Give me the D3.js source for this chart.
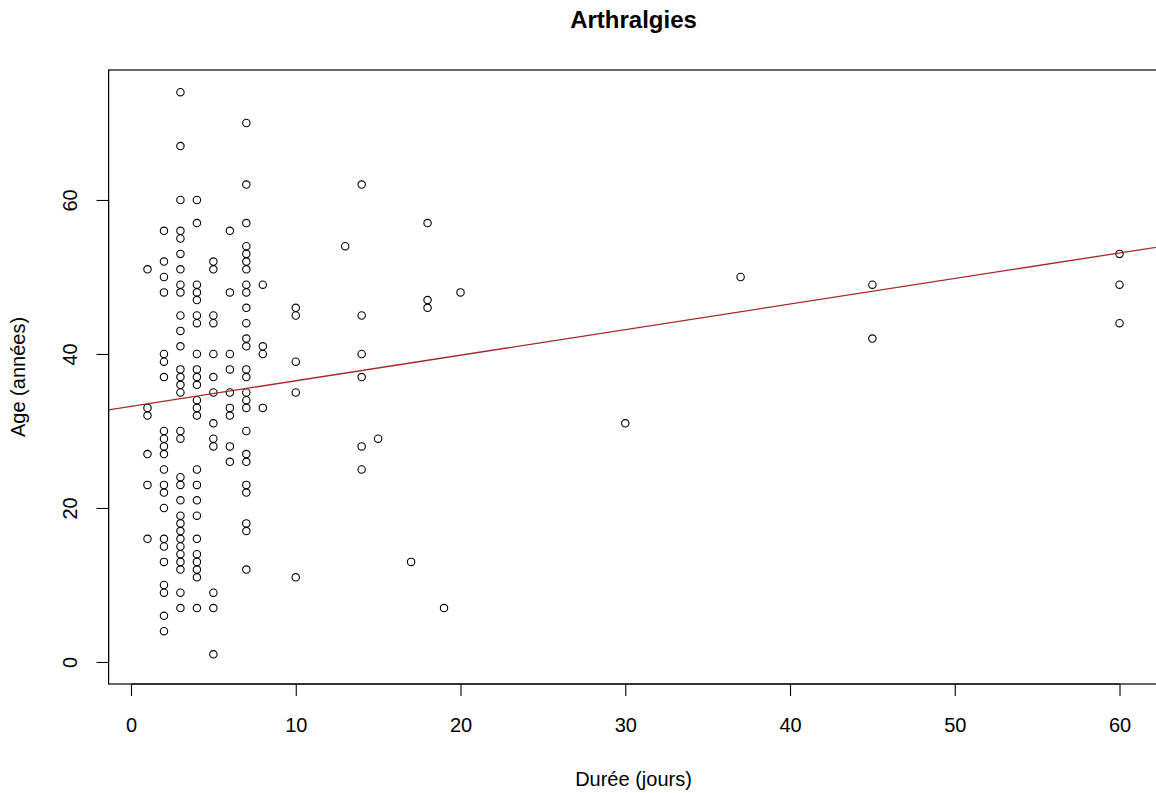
<!DOCTYPE html>
<html lang="fr">
<head>
<meta charset="utf-8">
<title>Arthralgies</title>
<script src="https://cdn.jsdelivr.net/npm/d3@7"></script>
<style>
  html, body { margin: 0; padding: 0; background: #fff; }
  svg { display: block; font-family: "Liberation Sans", Arial, sans-serif; }
</style>
</head>
<body>
<svg id="chart" width="1156" height="793"></svg>
<script>
// Durée des arthralgies (jours) et âges des patients observés pour chaque durée
const durees = [1, 2, 3, 4, 5, 6, 7, 8, 10, 13, 14, 15, 17, 18, 19, 20, 30, 37, 45, 60];
const agesParDuree = [
  [51, 33, 32, 27, 23, 16],
  [56, 52, 50, 48, 40, 39, 37, 30, 29, 28, 27, 25, 23, 22, 20, 16, 15, 13, 10, 9, 6, 4],
  [74, 67, 60, 56, 55, 53, 51, 49, 48, 45, 43, 41, 38, 37, 36, 35, 30, 29, 24, 23, 21, 19, 18, 17, 16, 15, 14, 13, 12, 9, 7],
  [60, 57, 49, 48, 47, 45, 44, 40, 38, 37, 36, 34, 33, 32, 25, 23, 21, 19, 16, 14, 13, 12, 11, 7],
  [52, 51, 45, 44, 40, 37, 35, 31, 29, 28, 9, 7, 1],
  [56, 48, 40, 38, 35, 33, 32, 28, 26],
  [70, 62, 57, 54, 53, 52, 51, 49, 48, 46, 44, 42, 41, 38, 37, 35, 34, 33, 30, 27, 26, 23, 22, 18, 17, 12],
  [49, 41, 40, 33],
  [46, 45, 39, 35, 11],
  [54],
  [62, 45, 40, 37, 28, 25],
  [29],
  [13],
  [57, 47, 46],
  [7],
  [48],
  [31],
  [50],
  [49, 42],
  [53, 49, 44]
];

// Droite de régression linéaire âge ~ durée (coefficients du modèle ajusté)
const regOrigine = 33.2;
const regPente = 0.332;

// Axes
const xTicks = [0, 10, 20, 30, 40, 50, 60];
const yTicks = [0, 20, 40, 60];
const xLim = [-1.36, 62.36];
const yLim = [-2.86, 76.88];

const titre = "Arthralgies";
const titreX = "Durée (jours)";
const titreY = "Age (années)";

// Flatten to (durée, âge) pairs
const points = [];
durees.forEach((d, i) => agesParDuree[i].forEach(a => points.push({ duree: d, age: a })));

const svg = d3.select("#chart");
const plot = { left: 108.6, right: 1158.4, top: 70, bottom: 684 };

const x = d3.scaleLinear().domain(xLim).range([plot.left, plot.right]);
const y = d3.scaleLinear().domain(yLim).range([plot.bottom, plot.top]);

// Clip region = plot box
svg.append("defs").append("clipPath").attr("id", "zone")
  .append("rect")
  .attr("x", plot.left).attr("y", plot.top)
  .attr("width", plot.right - plot.left).attr("height", plot.bottom - plot.top);

// Points
svg.append("g")
  .selectAll("circle")
  .data(points)
  .join("circle")
  .attr("cx", p => x(p.duree))
  .attr("cy", p => y(p.age))
  .attr("r", 3.7)
  .attr("fill", "none")
  .attr("stroke", "#000")
  .attr("stroke-width", 1.1);

// Regression line across the whole plot region
const reg = t => regOrigine + regPente * t;
svg.append("line")
  .attr("clip-path", "url(#zone)")
  .attr("x1", x(xLim[0])).attr("y1", y(reg(xLim[0])))
  .attr("x2", x(xLim[1])).attr("y2", y(reg(xLim[1])))
  .attr("stroke", "#a52a2a")
  .attr("stroke-width", 1.3);

// Box
svg.append("rect")
  .attr("x", plot.left).attr("y", plot.top)
  .attr("width", plot.right - plot.left).attr("height", plot.bottom - plot.top)
  .attr("fill", "none").attr("stroke", "#000").attr("stroke-width", 1.2);

// X axis
const gx = svg.append("g")
  .attr("transform", `translate(0,${plot.bottom})`)
  .call(d3.axisBottom(x).tickValues(xTicks).tickSize(12).tickPadding(22).tickFormat(d3.format("d")));
gx.select(".domain").remove();
gx.selectAll(".tick line").attr("stroke", "#000").attr("stroke-width", 1.1);
gx.selectAll(".tick text")
  .attr("font-size", 20).attr("fill", "#000")
  .attr("font-family", "Liberation Sans, Arial, sans-serif");
gx.append("line")
  .attr("x1", x(xTicks[0])).attr("x2", x(xTicks[xTicks.length - 1]))
  .attr("stroke", "#000").attr("stroke-width", 1.1);

// Y axis (labels parallel to the axis)
const gy = svg.append("g")
  .attr("transform", `translate(${plot.left},0)`)
  .call(d3.axisLeft(y).tickValues(yTicks).tickSize(12).tickFormat(d3.format("d")));
gy.select(".domain").remove();
gy.selectAll(".tick line").attr("stroke", "#000").attr("stroke-width", 1.1);
gy.selectAll(".tick text")
  .attr("x", null).attr("dy", null)
  .attr("text-anchor", "middle")
  .attr("transform", "translate(-32,0) rotate(-90)")
  .attr("font-size", 20).attr("fill", "#000")
  .attr("font-family", "Liberation Sans, Arial, sans-serif");
gy.append("line")
  .attr("y1", y(yTicks[0])).attr("y2", y(yTicks[yTicks.length - 1]))
  .attr("stroke", "#000").attr("stroke-width", 1.1);

// Titles
svg.append("text")
  .attr("x", (plot.left + plot.right) / 2).attr("y", 28)
  .attr("text-anchor", "middle")
  .attr("font-size", 24).attr("font-weight", "bold")
  .text(titre);

svg.append("text")
  .attr("x", (plot.left + plot.right) / 2).attr("y", 786)
  .attr("text-anchor", "middle")
  .attr("font-size", 20)
  .text(titreX);

svg.append("text")
  .attr("transform", `translate(25,${(plot.top + plot.bottom) / 2}) rotate(-90)`)
  .attr("text-anchor", "middle")
  .attr("font-size", 20)
  .text(titreY);
</script>
</body>
</html>
